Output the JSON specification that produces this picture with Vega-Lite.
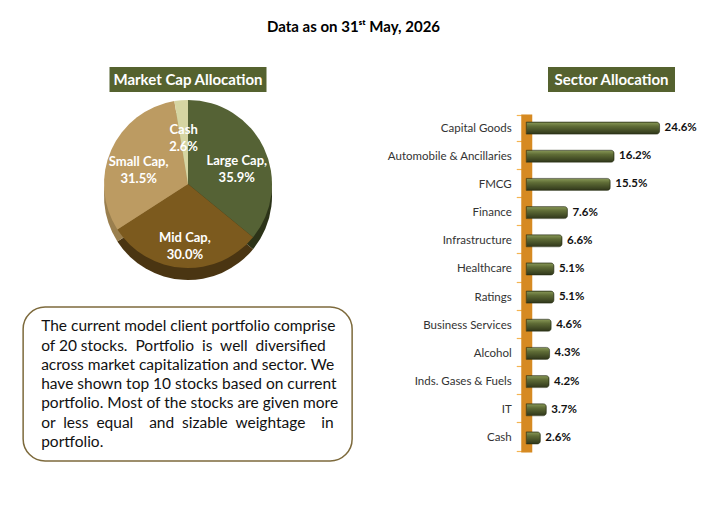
{
  "$schema": "https://vega.github.io/schema/vega-lite/v6.json",
  "background": "white",
  "padding": {"left": 22, "top": 20, "right": 8, "bottom": 8},
  "config": {"font": "Lato", "view": {"stroke": null}},
  "title": {"text": "Data as on 31ˢᵗ May, 2026", "fontSize": 15, "fontWeight": "bold", "font": "Lato", "color": "#000000", "anchor": "middle", "offset": 32, "dx": -6},
  "spacing": 33,
  "hconcat": [
    {
      "spacing": 26,
      "center": true,
      "vconcat": [
        {
          "spacing": 8,
          "center": true,
          "vconcat": [
            {
              "width": 157, "height": 25,
              "view": {"fill": "#55622F", "stroke": null},
              "data": {"values": [{"t": "Market Cap Allocation"}]},
              "mark": {"type": "text", "color": "white", "fontWeight": "bold", "fontSize": 15, "baseline": "middle", "align": "center"},
              "encoding": {"text": {"field": "t"}}
            },
            {
              "width": 329, "height": 180,
              "data": {"values": [
                {"segment": "Large Cap", "value": 35.9, "ord": 1, "label": "Large Cap,\n35.9%"},
                {"segment": "Mid Cap", "value": 30.0, "ord": 2, "label": "Mid Cap,\n30.0%"},
                {"segment": "Small Cap", "value": 31.5, "ord": 3, "label": "Small Cap,\n31.5%"},
                {"segment": "Cash", "value": 2.6, "ord": 4, "label": "Cash\n2.6%"}
              ]},
              "layer": [
                {
                  "mark": {"type": "arc", "outerRadius": 84, "yOffset": 6},
                  "encoding": {
                    "theta": {"field": "value", "type": "quantitative", "stack": true},
                    "order": {"field": "ord"},
                    "color": {"field": "segment", "type": "nominal", "legend": null,
                      "scale": {"domain": ["Large Cap", "Mid Cap", "Small Cap", "Cash"], "range": ["#2C3318", "#4A3512", "#9A7F4E", "#A8A776"]}}
                  }
                },
                {
                  "mark": {"type": "arc", "outerRadius": 84, "yOffset": -6},
                  "encoding": {
                    "theta": {"field": "value", "type": "quantitative", "stack": true},
                    "order": {"field": "ord"},
                    "color": {"field": "segment", "type": "nominal", "legend": null,
                      "scale": {"domain": ["Large Cap", "Mid Cap", "Small Cap", "Cash"], "range": ["#556235", "#7C5A1E", "#BC9B62", "#D6D5A2"]}}
                  }
                },
                {
                  "mark": {"type": "text", "radius": 54, "yOffset": -6, "fontWeight": "bold", "fontSize": 13, "color": "white", "lineBreak": "\n", "baseline": "middle", "align": "center", "lineHeight": 17},
                  "encoding": {
                    "theta": {"field": "value", "type": "quantitative", "stack": true},
                    "order": {"field": "ord"},
                    "text": {"field": "label"}
                  }
                }
              ],
              "resolve": {"scale": {"color": "independent"}}
            }
          ]
        },
        {
          "width": 329, "height": 154,
          "view": {"stroke": "#7D6A3C", "strokeWidth": 1.5, "cornerRadius": 22, "fill": "white"},
          "data": {"values": [
            {"line": 1, "t": "The current model client portfolio comprise"},
            {"line": 2, "t": "of 20 stocks.\u00a0 Portfolio\u00a0 is\u00a0 well\u00a0 diversified"},
            {"line": 3, "t": "across market capitalization and sector. We"},
            {"line": 4, "t": "have shown top 10 stocks based on current"},
            {"line": 5, "t": "portfolio. Most of the stocks are given more"},
            {"line": 6, "t": "or\u00a0 less\u00a0 equal\u00a0\u00a0\u00a0 and\u00a0 sizable\u00a0 weightage\u00a0\u00a0\u00a0 in"},
            {"line": 7, "t": "portfolio."}
          ]},
          "mark": {"type": "text", "align": "left", "baseline": "middle", "fontSize": 15.5, "color": "#111111"},
          "encoding": {
            "y": {"field": "line", "type": "ordinal", "scale": {"type": "point", "padding": 1.05}, "axis": null},
            "x": {"datum": 0, "type": "quantitative", "scale": {"domain": [-0.058, 1]}, "axis": null},
            "text": {"field": "t"}
          }
        }
      ]
    },
    {
      "spacing": 16,
      "center": true,
      "vconcat": [
        {
          "width": 127, "height": 25,
          "view": {"fill": "#55622F", "stroke": null},
          "data": {"values": [{"t": "Sector Allocation"}]},
          "mark": {"type": "text", "color": "white", "fontWeight": "bold", "fontSize": 15, "baseline": "middle", "align": "center"},
          "encoding": {"text": {"field": "t"}}
        },
        {
          "width": 168, "height": 338,
          "data": {"values": [
            {"sector": "Capital Goods", "value": 24.6, "label": "24.6%"},
            {"sector": "Automobile & Ancillaries", "value": 16.2, "label": "16.2%"},
            {"sector": "FMCG", "value": 15.5, "label": "15.5%"},
            {"sector": "Finance", "value": 7.6, "label": "7.6%"},
            {"sector": "Infrastructure", "value": 6.6, "label": "6.6%"},
            {"sector": "Healthcare", "value": 5.1, "label": "5.1%"},
            {"sector": "Ratings", "value": 5.1, "label": "5.1%"},
            {"sector": "Business Services", "value": 4.6, "label": "4.6%"},
            {"sector": "Alcohol", "value": 4.3, "label": "4.3%"},
            {"sector": "Inds. Gases & Fuels", "value": 4.2, "label": "4.2%"},
            {"sector": "IT", "value": 3.7, "label": "3.7%"},
            {"sector": "Cash", "value": 2.6, "label": "2.6%"}
          ]},
          "encoding": {
            "y": {"field": "sector", "type": "nominal", "sort": null,
              "axis": {"title": null, "labelFontSize": 11.5, "labelColor": "#333333", "domainColor": "#D68A22", "domainWidth": 11, "domainCap": "butt", "ticks": true, "tickColor": "#F5B451", "tickSize": 10, "tickWidth": 1.2, "tickBand": "extent", "labelPadding": 5, "grid": false}},
            "x": {"field": "value", "type": "quantitative", "scale": {"domain": [0, 31]}, "axis": null}
          },
          "layer": [
            {
              "mark": {"type": "bar", "size": 12, "cornerRadiusEnd": 3,
                "color": {"gradient": "linear", "x1": 0, "y1": 0, "x2": 0, "y2": 1, "stops": [{"offset": 0, "color": "#8A9A58"}, {"offset": 0.35, "color": "#5F6C36"}, {"offset": 1, "color": "#2F361A"}]},
                "stroke": "#2A3016", "strokeWidth": 0.6}
            },
            {
              "mark": {"type": "text", "align": "left", "baseline": "middle", "dx": 5, "fontWeight": "bold", "fontSize": 11.5, "color": "#111111"},
              "encoding": {"text": {"field": "label"}}
            }
          ]
        }
      ]
    }
  ]
}
